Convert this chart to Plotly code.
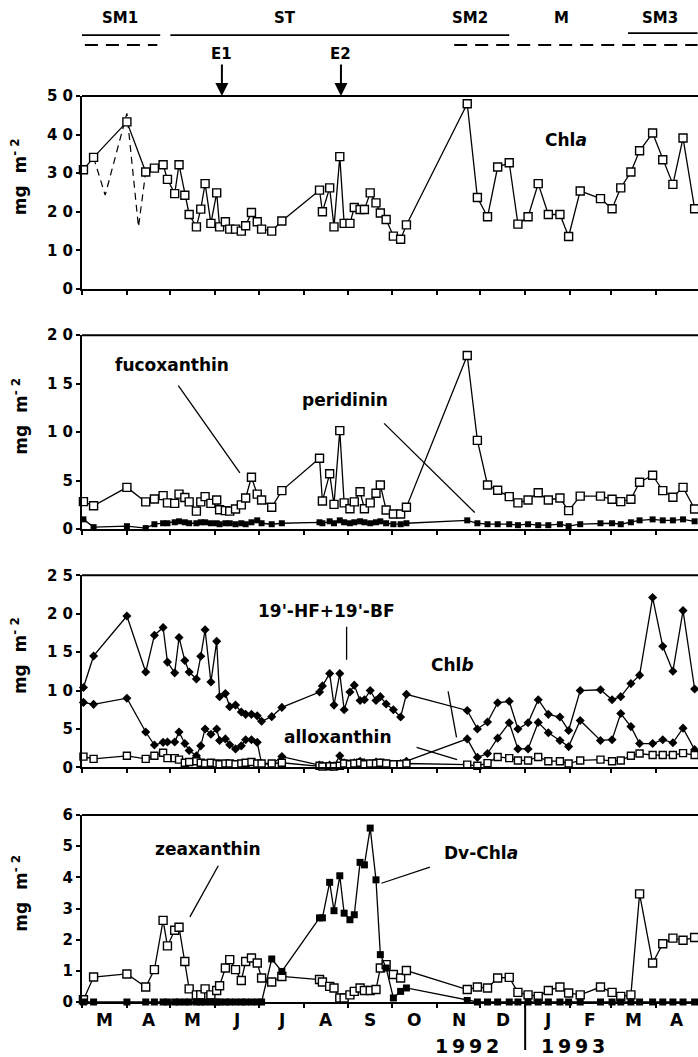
import pandas as pd
import plotly.graph_objects as go

START = pd.Timestamp("1992-03-01")
END = pd.Timestamp("1993-04-30 08:00")

# sampling dates, days after 1 March 1992
sample_day = [1, 8, 31, 44, 50, 56, 59, 64, 67, 71, 74, 79, 82, 85, 89, 93, 95, 99, 102, 106,
              110, 113, 117, 121, 124, 131, 138, 164, 166, 171, 174, 178,
              181, 185, 188, 192, 195, 199, 203, 206, 210, 215, 220, 224,
              266, 273, 280, 287, 295, 301, 308, 315, 322, 330, 336, 344, 358, 366, 372,
              379, 385, 394, 401, 408, 415, 423]

chla = [30.9, 34.1, 43.3, 30.3, 31.3, 32.2, 28.4, 24.7, 32.2, 24.3, 19.3, 16.1, 20.7, 27.3, 17.0,
        24.9, 16.1, 17.4, 15.5, 15.5, 15.0, 16.4, 19.8, 17.4, 15.5, 15.0, 17.6, 25.6, 20.0, 26.2,
        16.1, 34.3,
        17.0, 17.0, 21.1, 20.6, 20.6, 24.9, 22.3, 19.7, 18.0, 13.7, 12.9, 16.6,
        48.0, 23.7, 18.7, 31.6, 32.7, 16.8, 18.7, 27.3, 19.3, 19.3, 13.6, 25.4, 23.4, 20.8, 26.2,
        30.3, 35.8, 40.4, 33.5, 27.1, 39.1, 20.8]

# alternative (dashed) Chl a profile in March-April 1992
chla_alt_day = [8, 16, 31, 39, 44]
chla_alt = [34.1, 24.3, 45.5, 16.1, 30.3]

fucoxanthin = [2.83, 2.4, 4.3, 2.8, 3.1, 3.45, 2.7, 2.65, 3.6, 3.25, 2.8, 1.85, 2.8, 3.35, 2.65,
               3.0, 2.0, 1.9, 1.85, 2.07, 2.5, 3.2, 5.35, 3.6, 3.0, 2.25, 3.97, 7.3, 2.9, 5.7,
               2.55, 10.15,
               2.7, 2.1, 2.8, 3.85, 2.1, 2.7, 3.7, 4.55, 1.97, 1.55, 1.55, 2.25,
               17.9, 9.15, 4.55, 4.0, 3.35, 2.7, 3.0, 3.75, 3.0, 3.2, 1.9, 3.4, 3.4, 3.07, 2.83,
               3.07, 4.83, 5.55, 3.97, 3.28, 4.3, 2.07]

peridinin = [1.0, 0.2, 0.3, 0.1, 0.5, 0.6, 0.6, 0.7, 0.8, 0.7, 0.6, 0.6, 0.7, 0.7, 0.6,
             0.6, 0.5, 0.6, 0.6, 0.5, 0.6, 0.5, 0.7, 0.9, 0.6, 0.5, 0.6, 0.7, 0.6, 0.8,
             0.6, 0.9,
             0.7, 0.6, 0.7, 0.8, 0.7, 0.6, 0.7, 0.8, 0.6, 0.5, 0.5, 0.6,
             0.9, 0.6, 0.5, 0.5, 0.5, 0.4, 0.5, 0.4, 0.4, 0.5, 0.3, 0.5, 0.6, 0.6, 0.5,
             0.7, 0.9, 1.0, 0.9, 0.9, 1.0, 0.8]

hf_bf = [10.4, 14.5, 19.7, 12.4, 17.2, 18.2, 13.7, 12.3, 16.9, 13.9, 12.4, 11.5, 14.45, 17.9, 11.1,
         16.4, 9.2, 9.6, 7.9, 8.1, 7.2, 6.9, 6.9, 6.7, 6.0, 6.6, 7.8, 9.8, 10.6, 12.2,
         8.1, 12.2,
         7.5, 9.8, 10.7, 8.7, 8.8, 10.0, 8.7, 9.2, 8.25, 7.5, 6.55, 9.5,
         7.4, 5.0, 5.9, 8.4, 8.6, 5.0, 5.8, 8.8, 6.9, 6.55, 4.8, 10.0, 10.1, 8.8, 9.2,
         10.9, 12.0, 22.1, 15.75, 12.5, 20.4, 10.2]

chlb = [8.45, 8.2, 9.0, 4.6, 2.9, 3.25, 3.3, 3.3, 4.6, 3.1, 2.2, 1.5, 2.8, 5.0, 4.3,
        5.0, 3.5, 3.7, 2.95, 2.4, 2.8, 3.6, 3.6, 3.25, 0.5, 0.4, 1.4, 0.3, 0.2, 0.3,
        0.2, 1.5,
        0.6, 0.5, 0.6, 0.8, 0.6, 0.5, 0.7, 0.6, 0.5, 0.4, 0.5, 0.8,
        3.7, 1.3, 1.8, 3.8, 5.8, 2.4, 2.4, 5.85, 4.5, 3.5, 2.7, 6.1, 3.5, 3.6, 7.0,
        5.3, 3.1, 3.1, 3.6, 3.2, 5.1, 2.3]

alloxanthin = [1.4, 1.1, 1.5, 1.1, 1.5, 1.9, 1.2, 1.2, 1.0, 0.6, 0.7, 0.8, 0.6, 0.5, 0.6,
               0.5, 0.4, 0.5, 0.5, 0.4, 0.5, 0.6, 0.7, 0.5, 0.5, 0.5, 0.6, 0.2, 0.1, 0.15,
               0.1, 0.2,
               0.5, 0.4, 0.5, 0.6, 0.4, 0.5, 0.5, 0.6, 0.5, 0.4, 0.4, 0.5,
               0.35, 0.2, 0.55, 1.35, 1.2, 0.9, 0.9, 1.35, 0.8, 0.8, 0.5, 0.9, 1.0, 0.8, 0.9,
               1.5, 1.8, 1.6, 1.6, 1.6, 1.85, 1.6]

zeaxanthin = [0.07, 0.8, 0.9, 0.48, 1.04, 2.62, 1.8, 2.3, 2.4, 1.3, 0.42, 0.23, 0.23, 0.42, 0.23,
              0.37, 0.52, 1.09, 1.36, 1.04, 0.69, 1.3, 1.41, 1.25, 0.77, 0.64, 0.82, 0.72, 0.64, 0.5,
              0.45, 0.13,
              0.13, 0.23, 0.34, 0.45, 0.37, 0.37, 0.4, 1.09, 1.2, 0.88, 0.77, 1.01,
              0.4, 0.48, 0.45, 0.77, 0.79, 0.31, 0.23, 0.18, 0.37, 0.48, 0.29, 0.23, 0.48, 0.31, 0.18,
              0.23, 3.47, 1.25, 1.87, 2.05, 1.98, 2.07]

dv_chla = [0, 0, 0, 0, 0, 0, 0, 0, 0, 0, 0, 0, 0, 0, 0,
           0, 0, 0, 0, 0, 0, 0, 0, 0, 0, 1.38, 0.98, 2.7, 2.7, 3.84,
           2.93, 4.05,
           2.85, 2.64, 2.8, 4.48, 4.4, 5.58, 3.92, 1.52, 1.09, 0.13, 0.34, 0.45,
           0.05, 0, 0, 0, 0, 0, 0, 0, 0, 0, 0, 0, 0, 0, 0,
           0, 0, 0, 0, 0, 0, 0]

month_labels = ["M", "A", "M", "J", "J", "A", "S", "O", "N", "D", "J", "F", "M", "A"]
year_labels = ["1992", "1993"]

# period bars above the plot (days after start)
periods_solid = [("SM1", 0, 54), ("ST", 61, 295), ("SM3", 377, 425)]
periods_dashed = [(2, 52), (257, 425)]
period_labels = [("SM1", 26), ("ST", 140), ("SM2", 268), ("M", 331), ("SM3", 399)]
events = [("E1", 96.6), ("E2", 178.8)]

panel_ranges = [(0, 50), (0, 20), (0, 25), (0, 6)]
panel_ticks = [[0, 10, 20, 30, 40, 50], [0, 5, 10, 15, 20], [0, 5, 10, 15, 20, 25],
               [0, 1, 2, 3, 4, 5, 6]]
panel_domains = [(0.787, 1.0), (0.522, 0.736), (0.259, 0.471), (0.0, 0.2064)]


def day2date(d):
    return START + pd.Timedelta(days=d)


dates = [day2date(d) for d in sample_day]
month_starts = pd.date_range("1992-03-01", periods=15, freq="MS")
month_mids = [month_starts[i] + (month_starts[i + 1] - month_starts[i]) / 2 for i in range(14)]

FONT = "DejaVu Sans"
BLACK = "black"

fig = go.Figure()


def open_sq(x, y, ax, size=8):
    fig.add_trace(go.Scatter(x=x, y=y, mode="lines+markers", xaxis=ax[0], yaxis=ax[1],
                             line=dict(color=BLACK, width=1.3),
                             marker=dict(symbol="square", size=size, color="white",
                                         line=dict(color=BLACK, width=1.4)),
                             cliponaxis=False, showlegend=False))


def filled(x, y, ax, symbol, size):
    fig.add_trace(go.Scatter(x=x, y=y, mode="lines+markers", xaxis=ax[0], yaxis=ax[1],
                             line=dict(color=BLACK, width=1.3),
                             marker=dict(symbol=symbol, size=size, color=BLACK),
                             cliponaxis=False, showlegend=False))


# panel 1
fig.add_trace(go.Scatter(x=[day2date(d) for d in chla_alt_day], y=chla_alt, mode="lines",
                         xaxis="x", yaxis="y",
                         line=dict(color=BLACK, width=1.2, dash="7px,5px"),
                         showlegend=False))
open_sq(dates, chla, ("x", "y"))
# panel 2
filled(dates, peridinin, ("x2", "y2"), "square", 6)
open_sq(dates, fucoxanthin, ("x2", "y2"))
# panel 3
filled(dates, hf_bf, ("x3", "y3"), "diamond", 7)
filled(dates, chlb, ("x3", "y3"), "diamond", 7)
open_sq(dates, alloxanthin, ("x3", "y3"), size=7)
# panel 4
open_sq(dates, zeaxanthin, ("x4", "y4"))
filled(dates, dv_chla, ("x4", "y4"), "square", 7)

layout = dict(
    width=698, height=1057,
    margin=dict(l=82, r=0, t=96, b=55),
    paper_bgcolor="white", plot_bgcolor="white",
    font=dict(family=FONT, size=17, color=BLACK, weight="bold"),
    showlegend=False,
)

for i in range(4):
    n = "" if i == 0 else str(i + 1)
    layout["xaxis" + n] = dict(
        type="date", range=[START, END], domain=[0, 1], anchor="y" + n,
        showline=True, linecolor=BLACK, linewidth=2, showgrid=False, zeroline=False,
        tickmode="array", tickvals=month_mids, ticktext=month_labels, ticks="",
        showticklabels=False,
        minor=dict(tickmode="array", tickvals=list(month_starts), ticks="outside", ticklen=4,
                   tickwidth=1.5, tickcolor=BLACK, showgrid=False),
    )
    lo, hi = panel_ranges[i]
    layout["yaxis" + n] = dict(
        range=[lo, hi], domain=list(panel_domains[i]), anchor="x" + n,
        showline=True, linecolor=BLACK, linewidth=2, showgrid=False, zeroline=False,
        tickmode="array", tickvals=panel_ticks[i],
        ticktext=["<b>" + " ".join(str(v)) + "</b>" for v in panel_ticks[i]],
        ticks="outside", ticklen=4, tickwidth=1.5, tickcolor=BLACK,
        tickfont=dict(size=15, family=FONT, weight="bold"),
    )

fig.update_layout(**layout)

shapes = []
annotations = []

# top frame lines and y titles
for i in range(4):
    n = "" if i == 0 else str(i + 1)
    shapes.append(dict(type="line", xref="paper", yref="y" + n + " domain", x0=0, x1=1, y0=1, y1=1,
                       line=dict(color=BLACK, width=2)))
    annotations.append(dict(xref="paper", yref="y" + n + " domain", x=-0.102, y=0.58,
                            xanchor="center", yanchor="middle",
                            text="mg  m<sup>- 2</sup>", textangle=-90, showarrow=False,
                            font=dict(size=17)))

# month labels under the bottom panel
for lab, mid in zip(month_labels, month_mids):
    annotations.append(dict(xref="x4", yref="paper", x=mid, y=-0.0199, yanchor="middle",
                            text=lab, showarrow=False, font=dict(size=17)))

# period bars
for _, a, b in periods_solid:
    yy = 1.0695 if a > 300 else 1.0673
    shapes.append(dict(type="line", xref="x", yref="paper", x0=day2date(a), x1=day2date(b),
                       y0=yy, y1=yy, line=dict(color=BLACK, width=1.8)))
for a, b in periods_dashed:
    shapes.append(dict(type="line", xref="x", yref="paper", x0=day2date(a), x1=day2date(b),
                       y0=1.0563, y1=1.0563,
                       line=dict(color=BLACK, width=1.8, dash="13px,8px")))
for lab, d in period_labels:
    annotations.append(dict(xref="x", yref="paper", x=day2date(d), y=1.086, yanchor="middle",
                            text=lab, showarrow=False, font=dict(size=15)))
for lab, d in events:
    annotations.append(dict(xref="x", yref="paper", x=day2date(d), y=1.0, text=lab,
                            showarrow=True, arrowhead=2, arrowsize=1.3, arrowwidth=2,
                            arrowcolor=BLACK, ax=0, ay=-42, font=dict(size=15)))

# series labels and pointers (day, value) per panel
labels = [
    ("x", "y", "Chl<i>a</i>", 334.4, 38.7, None),
    ("x2", "y2", "fucoxanthin", 62.1, 16.9, (66.5, 14.8, 109.0, 5.8)),
    ("x2", "y2", "peridinin", 181.5, 13.3, (208.6, 10.9, 271.2, 1.7)),
    ("x3", "y3", "19'-HF+19'-BF", 168.9, 20.3, (182.7, 18.3, 182.7, 14.0)),
    ("x3", "y3", "Chl<i>b</i>", 255.8, 13.3, (252.8, 9.9, 258.6, 3.9)),
    ("x3", "y3", "alloxanthin", 176.7, 4.0, (231.0, 2.6, 259.0, 1.0)),
    ("x4", "y4", "zeaxanthin", 87.2, 4.9, (94.1, 4.37, 74.5, 2.73)),
    ("x4", "y4", "Dv-Chl<i>a</i>", 275.8, 4.78, (240.2, 4.33, 206.8, 3.81)),
]
for xa, ya, txt, d, v, ptr in labels:
    annotations.append(dict(xref=xa, yref=ya, x=day2date(d), y=v, text=txt, showarrow=False,
                            xanchor="center", yanchor="middle", font=dict(size=17)))
    if ptr:
        d0, v0, d1, v1 = ptr
        shapes.append(dict(type="line", xref=xa, yref=ya, x0=day2date(d0), y0=v0,
                           x1=day2date(d1), y1=v1, line=dict(color=BLACK, width=1.3)))

# year labels and divider
jan93 = pd.Timestamp("1993-01-01")
shapes.append(dict(type="line", xref="x4", yref="paper", x0=jan93, x1=jan93, y0=0, y1=-0.053,
                   line=dict(color=BLACK, width=2)))
annotations.append(dict(xref="x4", yref="paper", x=jan93, y=-0.0485, yanchor="middle",
                        text="\u2009".join(year_labels[0]),
                        xanchor="right", xshift=-24, showarrow=False, font=dict(size=19)))
annotations.append(dict(xref="x4", yref="paper", x=jan93, y=-0.0485, yanchor="middle",
                        text="\u2009".join(year_labels[1]),
                        xanchor="left", xshift=14, showarrow=False, font=dict(size=19)))

fig.update_layout(shapes=shapes, annotations=annotations)
fig.write_html("out.html", config={"displayModeBar": False},
               post_script="document.body.style.margin='0';document.body.style.overflow='hidden';")
